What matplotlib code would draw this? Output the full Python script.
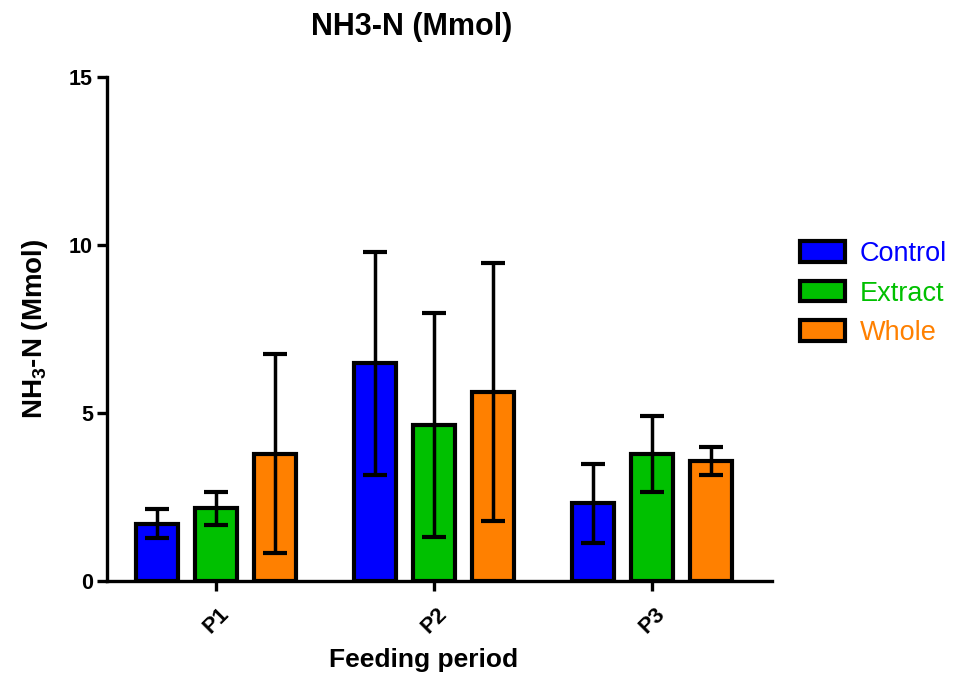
# NH3-N bar chart by feeding period and treatment

import numpy as np
from matplotlib import pyplot as plt
from matplotlib.patches import Patch

periods = ["P1", "P2", "P3"]
groups = ["Control", "Extract", "Whole"]
colors = ["#0000FF", "#00C000", "#FF8000"]

control_mean = [1.71, 6.48, 2.31]
control_err = [0.43, 3.32, 1.17]
extract_mean = [2.16, 4.64, 3.78]
extract_err = [0.50, 3.33, 1.12]
whole_mean = [3.79, 5.62, 3.58]
whole_err = [2.97, 3.84, 0.41]

means = [control_mean, extract_mean, whole_mean]
errs = [control_err, extract_err, whole_err]

plt.rcParams["font.family"] = ["Liberation Sans", "DejaVu Sans"]
plt.rcParams["mathtext.fontset"] = "custom"
plt.rcParams["mathtext.bf"] = "Liberation Sans:bold"

fig = plt.figure(figsize=(9.71, 6.76), dpi=100)
ax = fig.add_axes([0.1102, 0.1405, 0.6848, 0.7455])

x = np.arange(len(periods))
offset = 0.27
width = 0.19
for i, (m, e, c) in enumerate(zip(means, errs, colors)):
    ax.bar(x + (i - 1) * offset, m, width, color=c, edgecolor="black",
           linewidth=3.0, zorder=2)
    ax.errorbar(x + (i - 1) * offset, m, yerr=e, fmt="none", ecolor="black",
                elinewidth=2.5, capsize=8.5, capthick=3.0, zorder=3)

ax.set_xlim(-0.5, 2.55)
ax.set_ylim(0, 15)
ax.set_yticks([0, 5, 10, 15])
ax.set_xticks(x)
ax.set_xticklabels(periods, rotation=45, fontweight="bold", fontsize=16)
for lab in ax.get_yticklabels():
    lab.set_fontweight("bold")
    lab.set_fontsize(15.5)

for side in ["top", "right"]:
    ax.spines[side].set_visible(False)
for side in ["left", "bottom"]:
    ax.spines[side].set_linewidth(2.4)
ax.tick_params(axis="both", width=2.4, length=7, pad=3)
ax.tick_params(axis="x", pad=9)

# Titles and axis labels
fig.text(412 / 971, 1 - 27 / 676, "NH3-N (Mmol)", ha="center", va="center",
         fontsize=22, fontweight="bold")
fig.text(35 / 971, 1 - 329 / 676, r"NH$_\mathbf{3}$-N (Mmol)", rotation=90,
         ha="center", va="center", fontsize=20, fontweight="bold")
fig.text(424 / 971, 1 - 660 / 676, "Feeding period", ha="center",
         va="center", fontsize=19, fontweight="bold")

# Legend with text coloured by group
handles = [Patch(facecolor=c, edgecolor="black", linewidth=3.0) for c in colors]
leg = fig.legend(handles, groups, loc="upper left",
                 bbox_to_anchor=(800 / 971, 1 - 241 / 676), frameon=False,
                 borderpad=0, borderaxespad=0, fontsize=19.5,
                 handlelength=1.65, handleheight=0.8,
                 labelspacing=0.5, handletextpad=0.55)
for txt, c in zip(leg.get_texts(), colors):
    txt.set_color(c)

fig.savefig("out.png", dpi=100)
plt.close(fig)
